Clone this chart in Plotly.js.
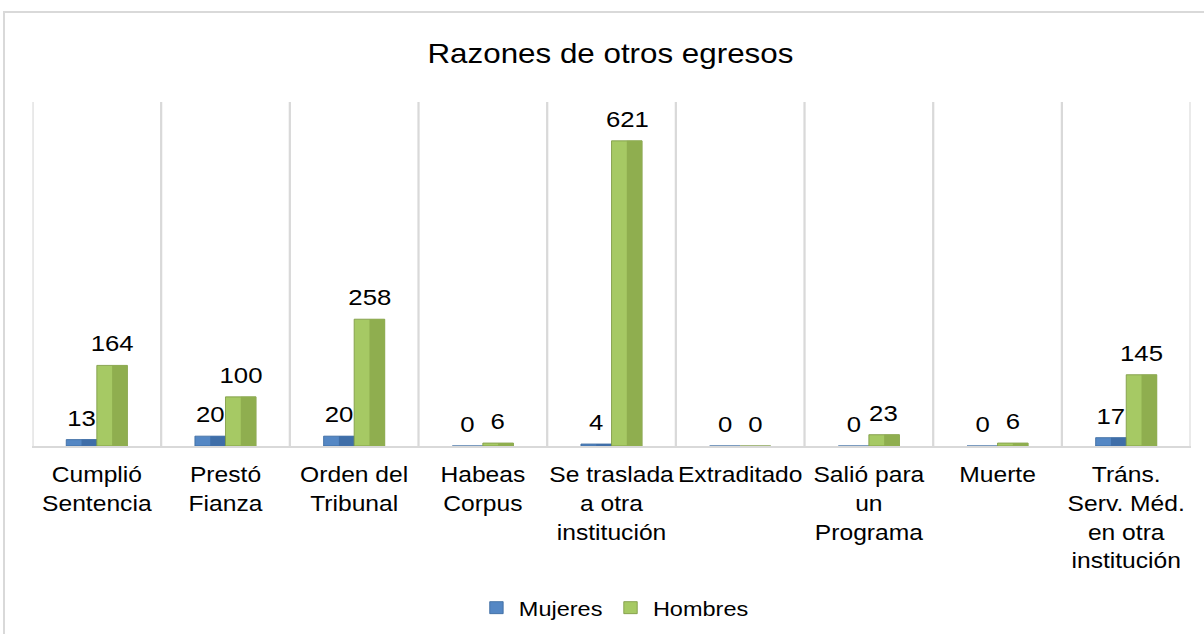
<!DOCTYPE html>
<html>
<head>
<meta charset="utf-8">
<script src="https://cdn.plot.ly/plotly-3.0.1.min.js"></script>
<style>
  html, body { margin: 0; padding: 0; background: #ffffff; overflow: hidden; }
  #wrap { position: relative; width: 1204px; height: 634px; overflow: hidden; }
  #frame { position: absolute; left: 3px; top: 11px; width: 1300px; height: 700px; border: 2px solid #d9d9d9; box-sizing: border-box; pointer-events: none; }
  #chart { position: absolute; left: 0; top: 0; transform-origin: 0 0; }
</style>
</head>
<body>
<div id="wrap">
  <div id="frame"></div>
  <div id="chart"></div>
</div>
<script>
const categories = [
  "Cumplió<br>Sentencia",
  "Prestó<br>Fianza",
  "Orden del<br>Tribunal",
  "Habeas<br>Corpus",
  "Se traslada<br>a otra<br>institución",
  "Extraditado",
  "Salió para<br>un<br>Programa",
  "Muerte",
  "Tráns.<br>Serv. Méd.<br>en otra<br>institución"
];
const mujeres = [13, 20, 20, 0, 4, 0, 0, 0, 17];
const hombres = [164, 100, 258, 6, 621, 0, 23, 6, 145];
const seriesNames = ["Mujeres", "Hombres"];

// horizontal stretch of the reference's text/layout
const sx = 1.12;
const W = 1204 / sx;
const H = 634;

const bargap = 0.525;
const w = (1 - bargap) / 2;
const idx = categories.map((c, i) => i);
const FONT = "Liberation Sans, Arial, sans-serif";

const traces = [
  {
    type: "bar", name: seriesNames[0], x: idx, y: mujeres,
    offset: -w, width: w,
    marker: { color: "#5487c4", line: { color: "#3b6aa0", width: 0.8 } },
    hoverinfo: "y"
  },
  {
    type: "bar", name: seriesNames[0] + "-shade", x: idx, y: mujeres,
    offset: -w / 2, width: w / 2, showlegend: false,
    marker: { color: "#3f6ea8", line: { width: 0 } },
    hoverinfo: "skip"
  },
  {
    type: "bar", name: seriesNames[1], x: idx, y: hombres,
    offset: 0, width: w,
    marker: { color: "#a6c964", line: { color: "#7d9a43", width: 0.8 } },
    hoverinfo: "y"
  },
  {
    type: "bar", name: seriesNames[1] + "-shade", x: idx, y: hombres,
    offset: w / 2, width: w / 2, showlegend: false,
    marker: { color: "#8fae4f", line: { width: 0 } },
    hoverinfo: "skip"
  }
];

const annotations = [];
const labelFont = { family: FONT, size: 23, color: "#000000" };
mujeres.forEach((v, i) => annotations.push({
  x: i - w / 2, y: v, xref: "x", yref: "y", text: String(v), showarrow: false,
  yanchor: "bottom", yshift: 7, font: labelFont
}));
hombres.forEach((v, i) => annotations.push({
  x: i + w / 2, y: v, xref: "x", yref: "y", text: String(v), showarrow: false,
  yanchor: "bottom", yshift: 7, font: labelFont
}));

const layout = {
  width: W, height: H,
  margin: { l: 33 / sx, r: 14 / sx, t: 102, b: 188 },
  paper_bgcolor: "rgba(0,0,0,0)",
  plot_bgcolor: "rgba(0,0,0,0)",
  font: { family: FONT, size: 21, color: "#000000" },
  title: {
    text: "Razones de otros egresos",
    font: { family: FONT, size: 28, color: "#000000" },
    x: 0.507, xanchor: "center", y: 1 - 53 / 634, yanchor: "middle", yref: "container"
  },
  barmode: "overlay",
  xaxis: {
    type: "linear",
    tickmode: "array",
    tickvals: idx,
    ticktext: categories,
    range: [-0.5, categories.length - 0.5],
    showgrid: false,
    zeroline: false,
    showline: true, linecolor: "#d9d9d9", linewidth: 2,
    ticks: "",
    ticklabelstandoff: 8,
    tickfont: { family: FONT, size: 22, color: "#000000" },
    fixedrange: true
  },
  yaxis: {
    range: [0, 700],
    visible: false,
    showgrid: false,
    zeroline: false,
    fixedrange: true
  },
  shapes: idx.concat([categories.length]).map(i => ({
    type: "line", xref: "x", yref: "paper", x0: i - 0.5, x1: i - 0.5, y0: 0, y1: 1,
    line: { color: "#d9d9d9", width: 2 }, layer: "below"
  })),
  annotations: annotations,
  showlegend: true,
  legend: {
    orientation: "h", x: 0.51, xanchor: "center", xref: "container",
    y: 26 / 634, yanchor: "middle", yref: "container",
    font: { family: FONT, size: 21, color: "#000000" },
    itemwidth: 30, traceorder: "normal"
  }
};

const el = document.getElementById("chart");
el.style.transform = "scaleX(" + sx + ")";
Plotly.newPlot(el, traces, layout, { displayModeBar: false, staticPlot: true });
</script>
</body>
</html>
